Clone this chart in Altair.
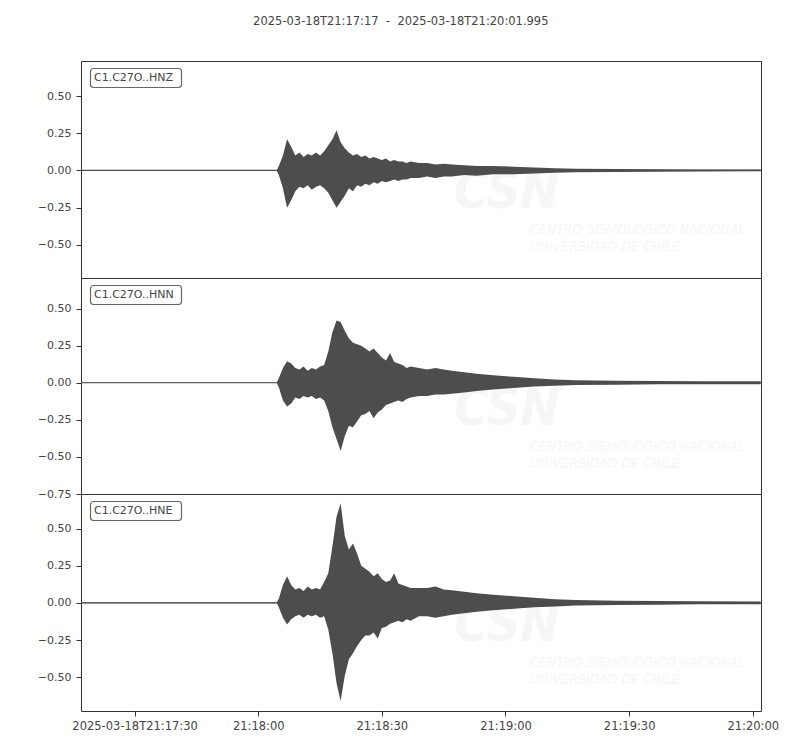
import json
import pandas as pd
import altair as alt

# Seconds after 2025-03-18T21:17:17 (trace start)
t_secs = [0, 47.5, 48,
          49, 50, 51, 52, 53, 54, 55, 56, 57, 58, 59, 60, 61, 62, 63, 64,
          65, 66, 67, 68, 69, 70, 71, 72, 73, 74, 75, 76, 77, 78, 79, 80,
          82, 84, 86, 88, 90, 93, 96, 100, 105, 110, 115, 120, 130, 140, 150, 164.9]

# Upper / lower envelopes
hnz_hi = [0.002, 0.002, 0.03,
          0.10, 0.21, 0.16, 0.10, 0.12, 0.09, 0.11, 0.10, 0.12, 0.10, 0.13, 0.17, 0.21, 0.27, 0.19, 0.15,
          0.12, 0.10, 0.11, 0.09, 0.10, 0.08, 0.09, 0.08, 0.07, 0.08, 0.06, 0.07, 0.06, 0.06, 0.05, 0.06,
          0.05, 0.05, 0.04, 0.045, 0.04, 0.035, 0.03, 0.03, 0.025, 0.02, 0.015, 0.012, 0.01, 0.008, 0.007, 0.006]
hnz_lo = [-0.002, -0.002, -0.03,
          -0.12, -0.25, -0.20, -0.14, -0.11, -0.12, -0.10, -0.13, -0.11, -0.10, -0.12, -0.15, -0.20, -0.25, -0.21, -0.17,
          -0.12, -0.14, -0.10, -0.11, -0.09, -0.10, -0.08, -0.09, -0.07, -0.08, -0.07, -0.06, -0.07, -0.06, -0.06, -0.05,
          -0.05, -0.04, -0.05, -0.04, -0.04, -0.03, -0.035, -0.025, -0.025, -0.02, -0.015, -0.012, -0.01, -0.008, -0.007, -0.006]

hnn_hi = [0.002, 0.002, 0.03,
          0.10, 0.145, 0.13, 0.10, 0.09, 0.11, 0.08, 0.10, 0.09, 0.11, 0.12, 0.21, 0.34, 0.42, 0.41, 0.35,
          0.30, 0.27, 0.26, 0.25, 0.23, 0.21, 0.23, 0.20, 0.17, 0.15, 0.20, 0.14, 0.13, 0.12, 0.10, 0.11,
          0.10, 0.09, 0.10, 0.09, 0.08, 0.07, 0.06, 0.05, 0.04, 0.03, 0.022, 0.017, 0.013, 0.011, 0.01, 0.01]
hnn_lo = [-0.002, -0.002, -0.03,
          -0.12, -0.16, -0.14, -0.10, -0.11, -0.09, -0.10, -0.09, -0.11, -0.10, -0.12, -0.19, -0.30, -0.38, -0.46, -0.36,
          -0.29, -0.30, -0.26, -0.22, -0.21, -0.19, -0.24, -0.20, -0.18, -0.15, -0.14, -0.13, -0.12, -0.13, -0.11, -0.10,
          -0.09, -0.09, -0.08, -0.08, -0.075, -0.065, -0.055, -0.045, -0.035, -0.026, -0.02, -0.016, -0.013, -0.011, -0.01, -0.01]

hne_hi = [0.002, 0.002, 0.03,
          0.12, 0.18, 0.12, 0.09, 0.10, 0.08, 0.11, 0.09, 0.10, 0.09, 0.14, 0.20, 0.38, 0.58, 0.67, 0.45,
          0.36, 0.40, 0.33, 0.25, 0.23, 0.21, 0.18, 0.20, 0.16, 0.14, 0.15, 0.20, 0.13, 0.12, 0.11, 0.10,
          0.10, 0.10, 0.11, 0.09, 0.085, 0.075, 0.065, 0.055, 0.045, 0.035, 0.025, 0.02, 0.015, 0.012, 0.011, 0.01]
hne_lo = [-0.002, -0.002, -0.03,
          -0.10, -0.145, -0.11, -0.09, -0.08, -0.10, -0.08, -0.09, -0.08, -0.10, -0.09, -0.18, -0.34, -0.54, -0.66, -0.49,
          -0.38, -0.34, -0.29, -0.25, -0.22, -0.22, -0.20, -0.24, -0.17, -0.16, -0.14, -0.13, -0.12, -0.13, -0.11, -0.12,
          -0.09, -0.09, -0.10, -0.09, -0.08, -0.07, -0.06, -0.05, -0.04, -0.03, -0.025, -0.018, -0.014, -0.012, -0.01, -0.01]

channels = ["C1.C27O..HNZ", "C1.C27O..HNN", "C1.C27O..HNE"]
y_domains = [[-0.723, 0.736], [-0.75, 0.706], [-0.728, 0.733]]
y_ticks = [[-0.5, -0.25, 0, 0.25, 0.5],
           [-0.75, -0.5, -0.25, 0, 0.25, 0.5],
           [-0.5, -0.25, 0, 0.25, 0.5]]

x_tick_secs = [13, 43, 73, 103, 133, 163]
x_tick_labels = ["2025-03-18T21:17:30", "21:18:00", "21:18:30", "21:19:00", "21:19:30", "21:20:00"]
t_end = 164.995
title_text = "2025-03-18T21:17:17\u00a0\u00a0-\u00a0\u00a02025-03-18T21:20:01.995"
watermark = ["CSN", "CENTRO SISMOLÓGICO NACIONAL", "UNIVERSIDAD DE CHILE"]

FONT = "DejaVu Sans"
TEXT = "#444444"
DARK = "#333333"
TRACE = "#4d4d4d"
WM = "#f6f6f6"
WM_FONT = "DejaVu Sans Condensed, Liberation Sans Narrow, Liberation Sans"

label_expr = f"{json.dumps(x_tick_labels)}[indexof({json.dumps(x_tick_secs)}, datum.value)]"


def panel(name, hi, lo, domain, ticks, height, bottom):
    df = pd.DataFrame({"t": t_secs, "hi": hi, "lo": lo})
    if bottom:
        x_axis = alt.Axis(values=x_tick_secs, labelExpr=label_expr, title=None,
                          domain=False, grid=False, tickSize=5, labelPadding=4,
                          labelFont=FONT, labelFontSize=11.5, labelColor=TEXT,
                          tickColor=DARK, labelFlush=False)
    else:
        x_axis = None
    x = alt.X("t:Q", scale=alt.Scale(domain=[0, t_end], nice=False, zero=False), axis=x_axis)
    y_scale = alt.Scale(domain=domain, nice=False, zero=False)
    y_axis = alt.Axis(values=ticks, format=".2f", title=None, domain=False, grid=False,
                      tickSize=5, labelPadding=5, minExtent=72, maxExtent=72,
                      labelFont=FONT, labelFontSize=11, labelColor=TEXT, tickColor=DARK)

    wm_big = alt.Chart(pd.DataFrame({"s": [watermark[0]]})).mark_text(
        font=WM_FONT, fontSize=52, fontStyle="italic", fontWeight="bold", color=WM,
        align="left", baseline="alphabetic"
    ).encode(text="s:N", x=alt.value(373), y=alt.value(147))
    wm_l1 = alt.Chart(pd.DataFrame({"s": [watermark[1]]})).mark_text(
        font=WM_FONT, fontSize=14, fontStyle="italic", color=WM, align="left", baseline="alphabetic"
    ).encode(text="s:N", x=alt.value(449), y=alt.value(173))
    wm_l2 = alt.Chart(pd.DataFrame({"s": [watermark[2]]})).mark_text(
        font=WM_FONT, fontSize=14, fontStyle="italic", color=WM, align="left", baseline="alphabetic"
    ).encode(text="s:N", x=alt.value(449), y=alt.value(190))

    trace = alt.Chart(df).mark_area(color=TRACE, opacity=1, interpolate="linear").encode(
        x=x, y=alt.Y("hi:Q", scale=y_scale, axis=y_axis), y2="lo:Q")
    base = alt.Chart(pd.DataFrame({"t": [0, t_end], "v": [0, 0]})).mark_line(
        color=TRACE, strokeWidth=1.2).encode(x=x, y=alt.Y("v:Q", scale=y_scale, axis=y_axis))

    box = alt.Chart(pd.DataFrame({"s": [name]})).mark_rect(
        fill="white", stroke="#666666", strokeWidth=1.2, cornerRadius=3
    ).encode(x=alt.value(9.5), x2=alt.value(100.5), y=alt.value(7.5), y2=alt.value(26.5))
    lab = alt.Chart(pd.DataFrame({"s": [name]})).mark_text(
        font=FONT, fontSize=11, color=TEXT, align="left", baseline="middle"
    ).encode(text="s:N", x=alt.value(13), y=alt.value(17))

    return alt.layer(wm_big, wm_l1, wm_l2, trace, base, box, lab).properties(
        width=680, height=height)


panels = [
    panel(channels[0], hnz_hi, hnz_lo, y_domains[0], y_ticks[0], 217, False),
    panel(channels[1], hnn_hi, hnn_lo, y_domains[1], y_ticks[1], 216, False),
    panel(channels[2], hne_hi, hne_lo, y_domains[2], y_ticks[2], 217, True),
]

chart = alt.vconcat(*panels, spacing=0, bounds="flush").resolve_scale(y="independent").properties(
    title=alt.TitleParams(title_text, font=FONT, fontSize=11.5, fontWeight="normal", color=TEXT,
                          anchor="middle", dx=7, offset=33),
    padding={"left": 0, "top": 8, "right": 10, "bottom": 10},
    background="white",
).configure_view(stroke=DARK, strokeWidth=1)

chart.save("out.html", embed_options={"renderer": "svg", "actions": False})
